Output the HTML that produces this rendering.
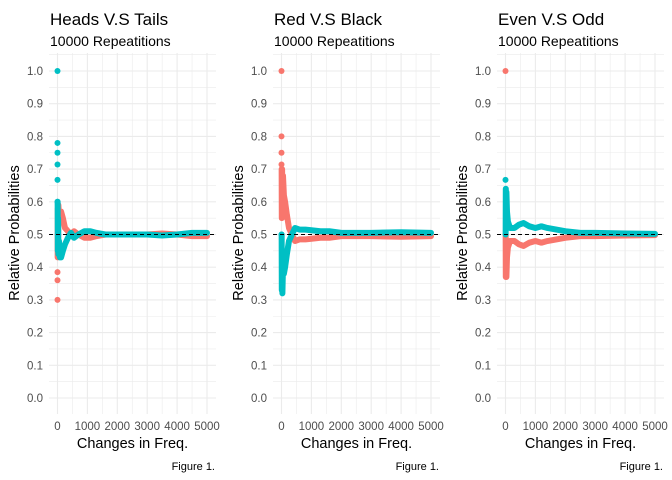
<!DOCTYPE html>
<html><head><meta charset="utf-8"><style>
body{margin:0;background:#fff;}
svg{display:block;font-family:"Liberation Sans",Arial,sans-serif;}
</style></head><body>
<svg id="chart" width="672" height="480"></svg>
<script>
const panelTitles=["Heads V.S Tails","Red V.S Black","Even V.S Odd"];
const yTicks=[0,0.1,0.2,0.3,0.4,0.5,0.6,0.7,0.8,0.9,1.0];
const xTicks=[0,1000,2000,3000,4000,5000];
// panel 1
const p1RedIsoY=[0.3,0.36,0.385];
const p1TealIsoY=[1.0,0.78,0.75,0.714,0.667,0.6];
const p1X=[5,10,20,30,50,80,120,180,250,350,450,550,700,900,1100,1300,1600,2000,2500,3000,3500,4000,4500,5000];
const p1Red=[0.43,0.58,0.45,0.59,0.56,0.57,0.57,0.55,0.52,0.51,0.495,0.51,0.5,0.49,0.49,0.495,0.5,0.5,0.5,0.5,0.503,0.5,0.495,0.495];
const p1Teal=[0.6,0.45,0.55,0.44,0.48,0.43,0.43,0.45,0.47,0.49,0.505,0.49,0.5,0.51,0.51,0.505,0.5,0.5,0.5,0.5,0.497,0.5,0.505,0.505];
// panel 2
const p2RedIsoY=[1.0,0.8,0.75,0.714];
const p2TealIsoY=[0.5];
const p2X=[5,10,20,30,50,80,120,180,250,350,450,600,800,1000,1300,1600,2000,3000,4000,5000];
const p2Red=[0.7,0.55,0.7,0.58,0.68,0.62,0.6,0.56,0.52,0.5,0.48,0.485,0.485,0.487,0.49,0.49,0.495,0.495,0.493,0.495];
const p2Teal=[0.5,0.33,0.45,0.32,0.4,0.38,0.4,0.44,0.48,0.5,0.52,0.515,0.515,0.513,0.51,0.51,0.505,0.505,0.507,0.505];
// panel 3
const p3RedIsoY=[1.0];
const p3TealIsoY=[0.667];
const p3X=[5,10,20,30,50,80,150,300,450,600,800,1000,1200,1400,1700,2000,2500,3000,4000,5000];
const p3Red=[0.5,0.37,0.45,0.37,0.43,0.46,0.48,0.48,0.47,0.465,0.475,0.48,0.475,0.48,0.485,0.49,0.495,0.495,0.497,0.498];
const p3Teal=[0.5,0.64,0.55,0.63,0.57,0.54,0.52,0.52,0.53,0.535,0.525,0.52,0.525,0.52,0.515,0.51,0.505,0.505,0.503,0.502];

const panels=[
 {x:p1X,red:p1Red,teal:p1Teal,ri:p1RedIsoY,ti:p1TealIsoY},
 {x:p2X,red:p2Red,teal:p2Teal,ri:p2RedIsoY,ti:p2TealIsoY},
 {x:p3X,red:p3Red,teal:p3Teal,ri:p3RedIsoY,ti:p3TealIsoY}];
const NS="http://www.w3.org/2000/svg";
const svg=document.getElementById('chart');
function mk(tag,attrs,parent,text){const e=document.createElementNS(NS,tag);for(const k in attrs)e.setAttribute(k,attrs[k]);if(text!==undefined)e.textContent=text;parent.appendChild(e);return e;}
const RED="#F8766D",TEAL="#00BFC4";
panels.forEach((p,i)=>{
  const off=i*224;
  const L=49+off,R=216+off,T=53,B=414;
  const ys=v=>398-v*327;
  const xs=v=>57.5+off+v*(149.5/5000);
  const g=mk('g',{},svg);
  
  
  for(let v=0.05;v<1.05;v+=0.1){mk('line',{x1:L,x2:R,y1:ys(v),y2:ys(v),stroke:'#ebebeb','stroke-width':0.6},g);}
  for(let v=500;v<=4500;v+=1000){mk('line',{x1:xs(v),x2:xs(v),y1:T,y2:B,stroke:'#ebebeb','stroke-width':0.6},g);}
  yTicks.forEach(v=>{
    mk('line',{x1:L,x2:R,y1:ys(v),y2:ys(v),stroke:'#ebebeb','stroke-width':1.1},g);
    const t=mk('text',{x:L-6,y:ys(v)+4,'text-anchor':'end','font-size':11.5,fill:'#4d4d4d'},g,v.toFixed(1));
    
    
  });
  xTicks.forEach(v=>{
    mk('line',{x1:xs(v),x2:xs(v),y1:T,y2:B,stroke:'#ebebeb','stroke-width':1.1},g);
    const t=mk('text',{x:xs(v),y:430,'text-anchor':'middle','font-size':11.5,fill:'#4d4d4d'},g,String(v));
    
    
  });
  [['red',RED,p.red,p.ri],['teal',TEAL,p.teal,p.ti]].forEach(([nm,col,vals,iso])=>{
    const pts=p.x.map((xv,k)=>xs(xv)+','+ys(vals[k])).join(' ');
    const pl=mk('polyline',{points:pts,fill:'none',stroke:col,'stroke-width':6,'stroke-linejoin':'round','stroke-linecap':'round'},g);
    
    
    iso.forEach(v=>{
      const c=mk('circle',{cx:xs(0),cy:ys(v),r:3,fill:col},g);
      
      
    });
  });
  const ref=mk('line',{x1:L,x2:R,y1:ys(0.5),y2:ys(0.5),stroke:'#000','stroke-width':1,'stroke-dasharray':'4,3'},g);
  
  
  const tt=mk('text',{x:50+off,y:25,'font-size':17,fill:'#000'},g,panelTitles[i]);
  
  
  const st=mk('text',{x:50+off,y:46,'font-size':14,fill:'#000'},g,'10000 Repeatitions');
  
  
  const yt=mk('text',{x:0,y:0,'font-size':14.5,fill:'#000','text-anchor':'middle',transform:'translate('+(19+off)+',233) rotate(-90)'},g,'Relative Probabilities');
  
  
  const xt=mk('text',{x:(L+R)/2,y:448,'font-size':14.5,fill:'#000','text-anchor':'middle'},g,'Changes in Freq.');
  
  
  const cap=mk('text',{x:215+off,y:470,'font-size':11,fill:'#000','text-anchor':'end'},g,'Figure 1.');
  
  
});
</script>
</body></html>
